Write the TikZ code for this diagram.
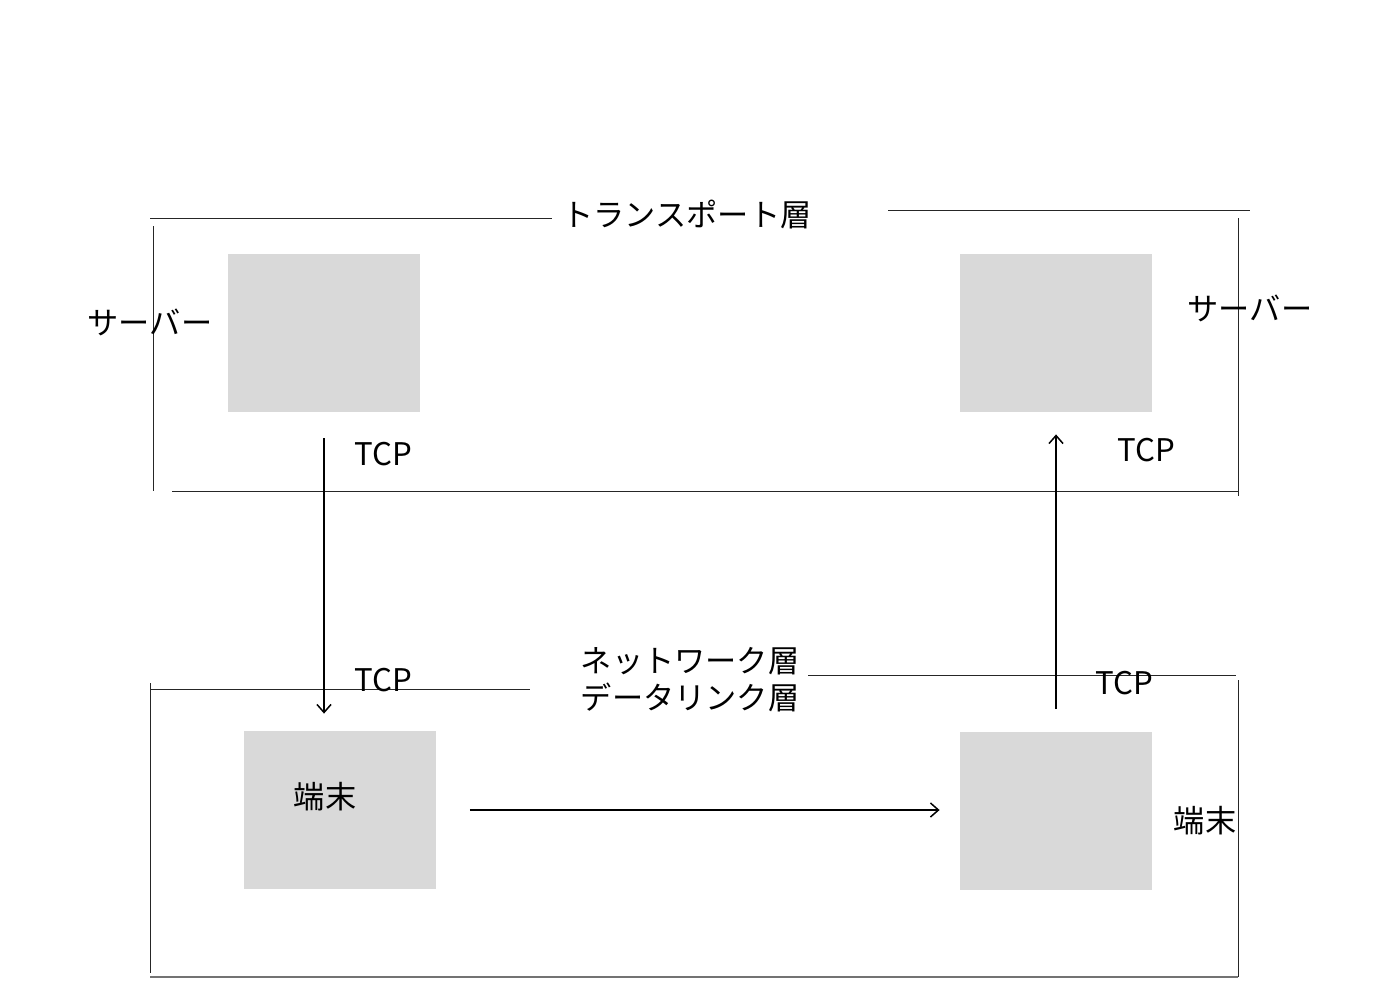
\documentclass[tikz,border=0pt]{standalone}
\usepackage{fontspec}
\setmainfont{Noto Sans CJK JP}
\usetikzlibrary{arrows.meta,positioning}
\definecolor{boxgray}{HTML}{D9D9D9}
\tikzset{
    hostbox/.style={fill=boxgray, draw=none, minimum width=96pt, minimum height=79pt, inner sep=0pt},
    frameline/.style={line width=0.5pt, black!85},
    flow/.style={-{Straight Barb[length=4pt,width=7pt]}, line width=0.75pt},
    lbl/.style={font=\fontsize{15.6}{18.5}\selectfont, inner sep=0pt, align=center}
}
\begin{document}
\begin{tikzpicture}[x=0.5pt,y=-0.5pt]
    \useasboundingbox (0,0) rectangle (1400,995);

    % Transport layer frame
    \draw[frameline] (150,218) -- (552,218);
    \draw[frameline] (888,210) -- (1250,210);
    \draw[frameline] (153,226) -- (153,491);
    \draw[frameline] (1238,218) -- (1238,496);
    \draw[frameline] (172,491) -- (1238,491);
    \node[lbl] (transport) at (687,215) {トランスポート層};

    % Network / data link layer frame
    \draw[frameline] (150,689) -- (530,689);
    \draw[frameline] (808,675) -- (1236,675);
    \draw[frameline] (150,683) -- (150,973);
    \draw[frameline] (1238,680) -- (1238,977);
    \draw[frameline, black!55, line width=0.8pt] (150,977) -- (1238,977);
    \node[lbl] (network) at (690,661) {ネットワーク層};
    \node[lbl] (datalink) at (690,697) {データリンク層};

    % Hosts
    \node[hostbox] (srvA) at (324,333) {};
    \node[hostbox] (srvB) at (1056,333) {};
    \node[hostbox] (tmA) at (339.5,810) {};
    \node[hostbox] (tmB) at (1056,810.5) {};

    % Host labels
    \node[lbl] (srvAlbl) at (150,322) {サーバー};
    \node[lbl] (srvBlbl) at (1250,308) {サーバー};
    \node[lbl] (tmAlbl) at (325,797) {端末};
    \node[lbl] (tmBlbl) at (1205,821) {端末};

    % TCP labels
    \node[lbl] (tcpA) at (383,454) {TCP};
    \node[lbl] (tcpB) at (1146,450) {TCP};
    \node[lbl] (tcpC) at (383,680) {TCP};
    \node[lbl] (tcpD) at (1124,683) {TCP};

    % Data flow
    \draw[flow, shorten <=13pt, shorten >=8.5pt] (srvA.south) -- (srvA.south |- tmA.north);
    \draw[flow, shorten <=17pt, shorten >=10pt] (tmA.east) -- (tmA.east -| tmB.west);
    \draw[flow, shorten <=11pt, shorten >=11pt] (tmB.north) -- (srvB.south);
\end{tikzpicture}
\end{document}
